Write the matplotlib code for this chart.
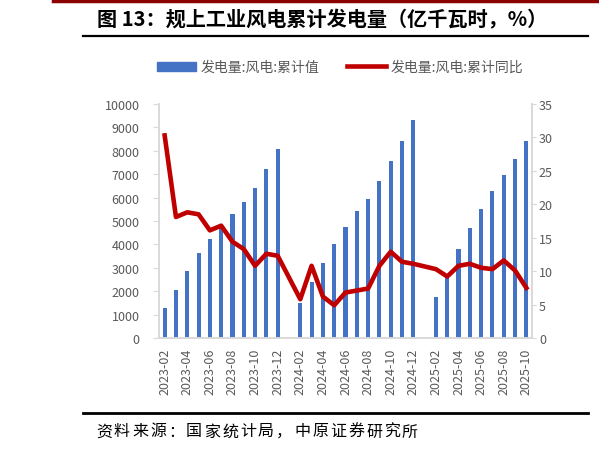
import numpy as np
import matplotlib.pyplot as plt
from matplotlib.lines import Line2D
from matplotlib.patches import Patch

plt.rcParams['font.family'] = ['Noto Sans CJK SC', 'DejaVu Sans']

# months 2023-02 .. 2025-10 (January has no data)
months = []
for y in (2023, 2024, 2025):
    for m in range(1, 13):
        if (y == 2023 and m < 2) or (y == 2025 and m > 10):
            continue
        months.append(f"{y}-{m:02d}")

# 累计值 (亿千瓦时)
cum_value = [1300, 2050, 2880, 3630, 4230, 4680, 5280, 5800, 6400, 7230, 8060,
             np.nan, 1480, 2400, 3220, 4020, 4750, 5420, 5960, 6720, 7560, 8400, 9330,
             np.nan, 1750, 2680, 3800, 4720, 5520, 6280, 6950, 7660, 8400]
# 累计同比 (%)
cum_yoy = [30.3, 18.1, 18.8, 18.5, 16.1, 16.8, 14.4, 13.3, 10.8, 12.6, 12.3,
           np.nan, 5.8, 10.8, 6.2, 4.9, 6.8, 7.1, 7.4, 10.8, 12.9, 11.4, 11.1,
           np.nan, 10.3, 9.2, 10.8, 11.1, 10.5, 10.3, 11.6, 10.1, 7.5]

label_bar = "发电量:风电:累计值"
label_line = "发电量:风电:累计同比"
title = "图 13：规上工业风电累计发电量（亿千瓦时，%）"
source = "资料来源：国家统计局，中原证券研究所"

gray = "#595959"
spine_c = "#D9D9D9"
blue = "#4472C4"
red = "#C00000"

x = np.arange(len(months))
bars = np.array(cum_value, dtype=float)
yoy = np.array(cum_yoy, dtype=float)

fig = plt.figure(figsize=(5.99, 4.52), dpi=100)
ax = fig.add_axes([159 / 599, 1 - 339 / 452, (532 - 159) / 599, (339 - 105) / 452])

ok = ~np.isnan(bars)
ax.bar(x[ok], bars[ok], width=0.36, color=blue)
ax.set_xlim(-0.5, len(months) - 0.5)
ax.set_ylim(0, 10000)
ax.set_yticks(np.arange(0, 10001, 1000))
ax.set_xticks(x[::2])
ax.set_xticklabels(months[::2], rotation=90, fontsize=9, color=gray)
ax.tick_params(axis='x', length=0, pad=7)
ax.tick_params(axis='y', length=4, color=spine_c, labelsize=9, labelcolor=gray, pad=10)

ax2 = ax.twinx()
ok2 = ~np.isnan(yoy)
ax2.plot(x[ok2], yoy[ok2], color=red, lw=3.3, solid_joinstyle='round')
ax2.set_ylim(0, 35)
ax2.set_yticks(np.arange(0, 36, 5))
ax2.tick_params(axis='y', length=3, color=spine_c, labelsize=9, labelcolor=gray, pad=2)

for a in (ax, ax2):
    a.spines['top'].set_visible(False)
    for s in ('left', 'right', 'bottom'):
        a.spines[s].set_color(spine_c)
        a.spines[s].set_linewidth(1.2)

handles = [Patch(color=blue, label=label_bar),
           Line2D([], [], color=red, lw=3.3, label=label_line)]
fig.legend(handles=handles, loc='center', bbox_to_anchor=(340 / 599, 1 - 68 / 452),
           ncol=2, frameon=False, fontsize=10, labelcolor=gray,
           handlelength=2.8, handleheight=0.6, handletextpad=0.35, columnspacing=2.0)

# header / footer decorations
fig.add_artist(Line2D([53 / 599, 1], [1 - 1.5 / 452] * 2, color="#8B0000", lw=2.5))
fig.text(97 / 599, 1 - 20 / 452, title, fontsize=14.5, fontweight='bold', ha='left', va='center')
fig.add_artist(Line2D([83 / 599, 588 / 599], [1 - 37 / 452] * 2, color='black', lw=1.6))
fig.add_artist(Line2D([83 / 599, 588 / 599], [1 - 414 / 452] * 2, color='black', lw=2.0))
# source line is letter-spaced in the original
for i, ch in enumerate(source):
    fig.text((96 + 18 * i) / 599, 1 - 432 / 452, ch, fontsize=11.5, ha='left', va='center')

fig.savefig("out.png", dpi=100)
